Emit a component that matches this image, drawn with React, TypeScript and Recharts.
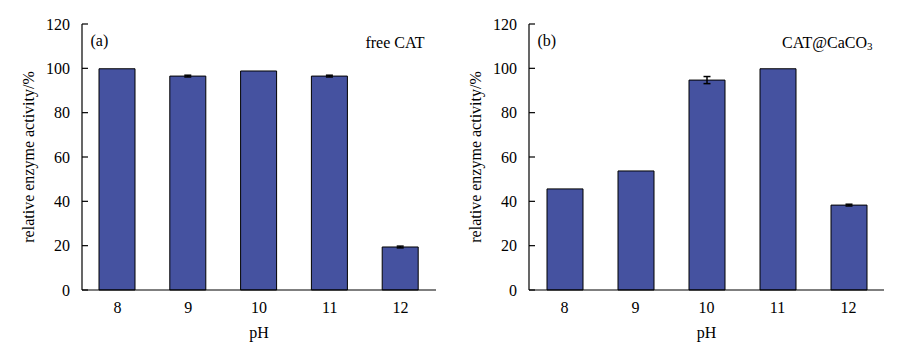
import React from "react";
import { BarChart, Bar, XAxis, YAxis, ErrorBar } from "recharts";

const categories = ["8", "9", "10", "11", "12"];
const freeValues = [99.8, 96.5, 98.8, 96.5, 19.4];
const freeErrors = [0, 0.4, 0, 0.4, 0.4];
const caco3Values = [45.6, 53.7, 94.7, 99.8, 38.3];
const caco3Errors = [0, 0, 1.6, 0, 0.4];
const yTicks = [0, 20, 40, 60, 80, 100, 120];

const FONT = "Liberation Serif";
const FILL = "#4552A0";

const buildRows = (vals: number[], errs: number[]) =>
  categories.map((c, i) => ({ ph: c, v: vals[i], e: errs[i] }));

const textStyle = { fontFamily: FONT, fontSize: 16 };

const YTick = (props: any) => {
  const { x, y, payload } = props;
  return (
    <g>
      <line x1={x} y1={y} x2={x + 6} y2={y} stroke="#000" strokeWidth={1.2} />
      <text
        x={x - 12}
        y={y}
        textAnchor="end"
        dominantBaseline="central"
        style={textStyle}
        fill="#000"
      >
        {payload.value}
      </text>
    </g>
  );
};

const XTick = (props: any) => {
  const { x, y, payload } = props;
  return (
    <text
      x={x}
      y={y + 17}
      textAnchor="middle"
      dominantBaseline="central"
      style={textStyle}
      fill="#000"
    >
      {payload.value}
    </text>
  );
};

type PanelProps = {
  left: number;
  width: number;
  plotLeft: number;
  marginRight: number;
  vals: number[];
  errs: number[];
  tag: string;
  title: React.ReactNode;
};

const H = 352;
const TOP = 24;
const XH = 62;

const Panel = ({ left, width, plotLeft, marginRight, vals, errs, tag, title }: PanelProps) => {
  const data = buildRows(vals, errs);
  const plotRight = width - marginRight;
  const plotMidX = (plotLeft + plotRight) / 2;
  const plotBottom = H - XH;
  const plotMidY = (TOP + plotBottom) / 2;
  return (
    <div style={{ position: "absolute", left, top: 0, width, height: H }}>
      <BarChart
        width={width}
        height={H}
        data={data}
        margin={{ top: TOP, right: marginRight, bottom: 0, left: 0 }}
        barSize={36}
      >
        <XAxis
          dataKey="ph"
          height={XH}
          axisLine={{ stroke: "#000", strokeWidth: 1.2 }}
          tickLine={false}
          tickSize={0}
          tickMargin={0}
          tick={<XTick />}
          interval={0}
        />
        <XAxis
          xAxisId="top"
          dataKey="ph"
          orientation="top"
          height={0}
          axisLine={{ stroke: "#000", strokeWidth: 1.2 }}
          tickLine={false}
          tick={false}
        />
        <YAxis
          width={plotLeft}
          domain={[0, 120]}
          ticks={yTicks}
          interval={0}
          axisLine={{ stroke: "#000", strokeWidth: 1.2 }}
          tickLine={false}
          tickSize={0}
          tickMargin={0}
          tick={<YTick />}
        />
        <YAxis
          yAxisId="r"
          orientation="right"
          width={0}
          domain={[0, 120]}
          axisLine={{ stroke: "#000", strokeWidth: 1.2 }}
          tickLine={false}
          tick={false}
        />
        <Bar dataKey="v" fill={FILL} stroke="#000" strokeWidth={1} isAnimationActive={false}>
          <ErrorBar dataKey="e" width={3.5} stroke="#000" strokeWidth={1.5} direction="y" />
        </Bar>
      </BarChart>
      <svg
        width={width}
        height={H}
        style={{ position: "absolute", left: 0, top: 0, pointerEvents: "none", fontFamily: FONT, fontSize: 16 }}
        fill="#000"
      >
        <text
          x={plotLeft - 54}
          y={plotMidY}
          transform={`rotate(-90 ${plotLeft - 54} ${plotMidY})`}
          textAnchor="middle"
          dominantBaseline="central"
          style={textStyle}
        >
          relative enzyme activity/%
        </text>
        <text x={plotMidX} y={332} textAnchor="middle" dominantBaseline="central" style={textStyle}>
          pH
        </text>
        <text x={plotLeft + 8.5} y={40} dominantBaseline="central" style={textStyle}>
          {tag}
        </text>
        <text x={plotRight - 11.5} y={42} textAnchor="end" dominantBaseline="central" style={textStyle}>
          {title}
        </text>
      </svg>
    </div>
  );
};

export default function App() {
  return (
    <div
      style={{
        position: "absolute",
        left: 0,
        top: 0,
        width: 906,
        height: 352,
        background: "#fff",
        fontFamily: FONT,
      }}
    >
      <Panel
        left={0}
        width={450}
        plotLeft={82}
        marginRight={14}
        vals={freeValues}
        errs={freeErrors}
        tag="(a)"
        title="free CAT"
      />
      <Panel
        left={450}
        width={456}
        plotLeft={79}
        marginRight={22}
        vals={caco3Values}
        errs={caco3Errors}
        tag="(b)"
        title={
          <>
            CAT@CaCO
            <tspan fontSize={11} dy={4}>
              3
            </tspan>
          </>
        }
      />
    </div>
  );
}
